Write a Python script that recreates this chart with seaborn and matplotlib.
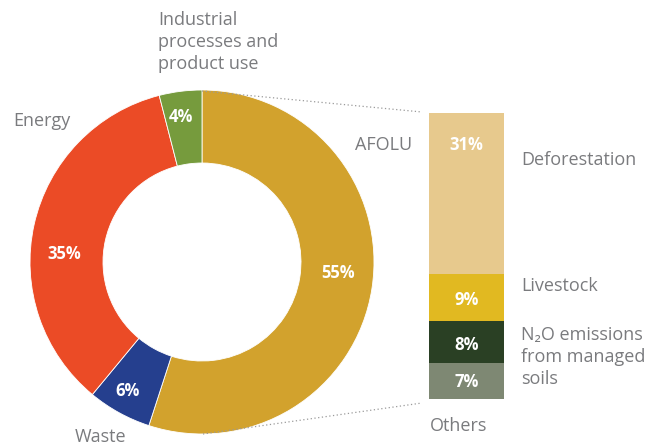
import matplotlib.pyplot as plt
import numpy as np
import pandas as pd
import seaborn as sns

# donut: share of emissions by sector (clockwise from 12 o'clock)
sectors = ["AFOLU", "Waste", "Energy", "Industrial processes\nand product use"]
sector_share = [55, 6, 35, 4]
sector_colors = ["#D2A22D", "#253F8E", "#EB4B26", "#769B3D"]

# AFOLU breakdown, bottom to top
afolu_parts = ["Others", "N\u2082O emissions\nfrom managed\nsoils", "Livestock", "Deforestation"]
afolu_share = [7, 8, 9, 31]
afolu_colors = ["#7E8873", "#2A4024", "#E1B921", "#E7C98D"]

GREY = "#7A7B7E"
FONT = ["Open Sans", "DejaVu Sans"]

sns.set_style("white")
plt.rcParams["font.family"] = FONT

W, H = 656, 448
fig = plt.figure(figsize=(W / 100, H / 100), dpi=100)

# ---- stacked bar for AFOLU (added first, so the text layer sits above) ----
bar_left, bar_right, bar_top, bar_bot = 429, 504, 113, 399
bax = fig.add_axes([bar_left / W, 1 - bar_bot / H,
                    (bar_right - bar_left) / W, (bar_bot - bar_top) / H])
df = pd.DataFrame({"part": afolu_parts, "share": afolu_share, "color": afolu_colors})
df["top"] = df["share"].cumsum()
# draw tallest first so the smaller cumulative bars sit on top
for _, row in df.iloc[::-1].iterrows():
    sns.barplot(x=[0], y=[row["top"]], color=row["color"], width=1,
                saturation=1, linewidth=0, ax=bax)
bax.set_xlim(-0.5, 0.5)
bax.set_ylim(0, df["top"].iloc[-1])
bax.axis("off")

ax = fig.add_axes([0, 0, 1, 1])
ax.set_zorder(2)

# ---- donut (pixel coords, y up) ----
cx, cy, r_out, r_in = 202, H - 262, 172, 99
ax.pie(sector_share, colors=sector_colors, startangle=90, counterclock=False,
       center=(cx, cy), radius=r_out,
       wedgeprops=dict(width=r_out - r_in, edgecolor="white", linewidth=0.6))
ax.set_xlim(0, W)
ax.set_ylim(0, H)
ax.set_aspect("equal")
ax.axis("off")

pct_style = dict(color="white", fontsize=12, fontweight="bold", ha="center", va="center")
pct_pos = [(338, 273), (128, 391), (64, 254), (181, 117)]
for share, (x, y) in zip(sector_share, pct_pos):
    ax.text(x, H - y, f"{share}%", **pct_style)

bar_pct_y = [382, 345, 300, 145]
for share, y in zip(afolu_share, bar_pct_y):
    ax.text((bar_left + bar_right) / 2, H - y, f"{share}%", **pct_style)

lbl_style = dict(color=GREY, fontsize=13)
ax.text(158, H - 11, "Industrial\nprocesses and\nproduct use", ha="left", va="top",
        linespacing=1.3, **lbl_style)
ax.text(13, H - 121, "Energy", ha="left", va="center", **lbl_style)
ax.text(75, H - 437, "Waste", ha="left", va="center", **lbl_style)
ax.text(355, H - 145, "AFOLU", ha="left", va="center", **lbl_style)

ax.text(521, H - 160, "Deforestation", ha="left", va="center", **lbl_style)
ax.text(521, H - 286, "Livestock", ha="left", va="center", **lbl_style)
ax.text(521, H - 357, afolu_parts[1], ha="left", va="center", linespacing=1.3, **lbl_style)
ax.text(430, H - 426, "Others", ha="left", va="center", **lbl_style)

# dotted connectors from the AFOLU wedge to the bar
ax.plot([202, 422], [H - 91, H - 112], ls=(0, (1, 2)), color="#9A9A9A", lw=0.9)
ax.plot([203, 422], [H - 434, H - 403], ls=(0, (1, 2)), color="#9A9A9A", lw=0.9)

fig.savefig("out.png", dpi=100)
